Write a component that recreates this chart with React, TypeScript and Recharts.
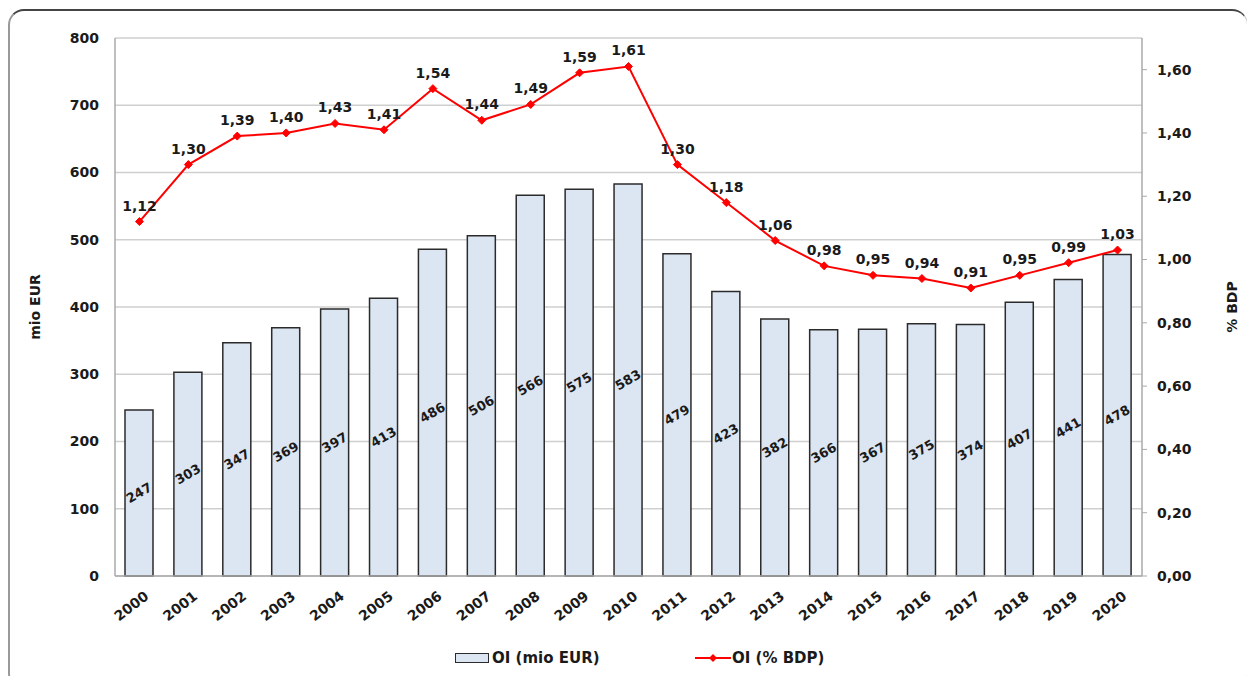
import React from "react";
import {
  ComposedChart,
  Bar,
  Line,
  XAxis,
  YAxis,
  CartesianGrid,
  LabelList,
} from "recharts";

const years = [
  "2000", "2001", "2002", "2003", "2004", "2005", "2006", "2007", "2008", "2009", "2010",
  "2011", "2012", "2013", "2014", "2015", "2016", "2017", "2018", "2019", "2020",
];
const oiMioEur = [
  247, 303, 347, 369, 397, 413, 486, 506, 566, 575, 583,
  479, 423, 382, 366, 367, 375, 374, 407, 441, 478,
];
const oiPctBdp = [
  1.12, 1.3, 1.39, 1.4, 1.43, 1.41, 1.54, 1.44, 1.49, 1.59, 1.61,
  1.3, 1.18, 1.06, 0.98, 0.95, 0.94, 0.91, 0.95, 0.99, 1.03,
];
const leftTicks = [0, 100, 200, 300, 400, 500, 600, 700, 800];
const rightTicks = [0, 0.2, 0.4, 0.6, 0.8, 1.0, 1.2, 1.4, 1.6];

const FONT = "'DejaVu Sans', Arial, sans-serif";
const TEXT = "#1a1a1a";

const fmt = (v: number) => v.toFixed(2).replace(".", ",");

const XTick = (props: any) => {
  const { x, y, payload } = props;
  return (
    <g transform={`translate(${x + 4},${y + 6})`}>
      <text
        x={0}
        y={0}
        dy={10}
        textAnchor="end"
        transform="rotate(-38)"
        fontFamily={FONT}
        fontWeight="bold"
        fontSize={14}
        fill={TEXT}
      >
        {payload.value}
      </text>
    </g>
  );
};

const BarValue = (props: any) => {
  const { x, y, width, height, value } = props;
  const cx = x + width / 2;
  const cy = y + height / 2;
  return (
    <text
      x={cx}
      y={cy}
      textAnchor="middle"
      dominantBaseline="central"
      transform={`rotate(-30 ${cx} ${cy})`}
      fontFamily={FONT}
      fontWeight="bold"
      fontSize={13}
      fill={TEXT}
    >
      {value}
    </text>
  );
};

const Diamond = (props: any) => {
  const { cx, cy } = props;
  if (cx == null || cy == null) return null;
  return (
    <path
      d={`M${cx},${cy - 4} L${cx + 4},${cy} L${cx},${cy + 4} L${cx - 4},${cy} Z`}
      fill="#ff0000"
      stroke="#ff0000"
    />
  );
};

const AxisTitle = (text: string, dx: number) => (props: any) => {
  const { viewBox } = props;
  const cx = viewBox.x + dx;
  const cy = viewBox.y + viewBox.height / 2;
  return (
    <text
      x={cx}
      y={cy}
      textAnchor="middle"
      dominantBaseline="central"
      transform={`rotate(-90 ${cx} ${cy})`}
      fontFamily={FONT}
      fontWeight="bold"
      fontSize={14}
      fill={TEXT}
    >
      {text}
    </text>
  );
};

export default function App() {
  const data = years.map((year, i) => ({
    year,
    mio: oiMioEur[i],
    pct: oiPctBdp[i],
  }));

  return (
    <div style={{ position: "relative", width: 1242, height: 668, fontFamily: FONT }}>
      <div
        style={{
          position: "absolute",
          left: 0,
          top: 1,
          width: 1240,
          height: 680,
          borderTop: "2px solid #444",
          borderLeft: "2px solid #999",
          borderRight: "1px solid #ccc",
          borderRadius: 16,
          boxSizing: "border-box",
        }}
      />
      <ComposedChart
        width={1242}
        height={668}
        data={data}
        margin={{ top: 30, right: 0, bottom: 0, left: 0 }}
        barSize={28}
      >
        <CartesianGrid yAxisId="left" vertical={false} stroke="#cfcfcf" strokeWidth={1.5} />
        <XAxis
          dataKey="year"
          height={100}
          interval={0}
          tickLine={false}
          axisLine={{ stroke: "#aaa", strokeWidth: 1.5 }}
          tick={<XTick />}
        />
        <YAxis
          yAxisId="left"
          width={107}
          domain={[0, 800]}
          ticks={leftTicks}
          tickLine={false}
          tickMargin={10}
          axisLine={{ stroke: "#aaa", strokeWidth: 1.5 }}
          tick={{ fontFamily: FONT, fontWeight: "bold", fontSize: 14, fill: TEXT }}
          label={{ content: AxisTitle("mio EUR", 27) }}
        />
        <YAxis
          yAxisId="right"
          orientation="right"
          width={108}
          domain={[0, 1.7]}
          ticks={rightTicks}
          tickFormatter={fmt}
          tickSize={5}
          tickMargin={10}
          tickLine={{ stroke: "#aaa" }}
          axisLine={{ stroke: "#aaa", strokeWidth: 1.5 }}
          tick={{ fontFamily: FONT, fontWeight: "bold", fontSize: 14, fill: TEXT }}
          label={{ content: AxisTitle("% BDP", 90) }}
        />
        <Bar
          yAxisId="left"
          dataKey="mio"
          fill="#dce6f2"
          stroke="#2b2b2b"
          strokeWidth={1.5}
          isAnimationActive={false}
        >
          <LabelList dataKey="mio" content={<BarValue />} />
        </Bar>
        <Line
          yAxisId="right"
          dataKey="pct"
          stroke="#ff0000"
          strokeWidth={2}
          dot={<Diamond />}
          isAnimationActive={false}
        >
          <LabelList
            dataKey="pct"
            position="top"
            offset={11}
            formatter={(v: any) => fmt(Number(v))}
            style={{ fontFamily: FONT, fontWeight: "bold", fontSize: 14, fill: TEXT }}
          />
        </Line>
      </ComposedChart>
      <div
        style={{
          position: "absolute",
          left: 447,
          top: 641,
          display: "flex",
          alignItems: "center",
          fontWeight: "bold",
          fontSize: 15,
          color: TEXT,
        }}
      >
        <span
          style={{
            display: "inline-block",
            width: 32,
            height: 8,
            background: "#dce6f2",
            border: "1.5px solid #2b2b2b",
            marginRight: 3,
          }}
        />
        OI (mio EUR)
      </div>
      <div
        style={{
          position: "absolute",
          left: 687,
          top: 641,
          display: "flex",
          alignItems: "center",
          fontWeight: "bold",
          fontSize: 15,
          color: TEXT,
        }}
      >
        <svg width={36} height={12} style={{ marginRight: 1 }}>
          <line x1={0} y1={6} x2={36} y2={6} stroke="#ff0000" strokeWidth={2} />
          <path d="M18,2 L22,6 L18,10 L14,6 Z" fill="#ff0000" />
        </svg>
        OI (% BDP)
      </div>
    </div>
  );
}
